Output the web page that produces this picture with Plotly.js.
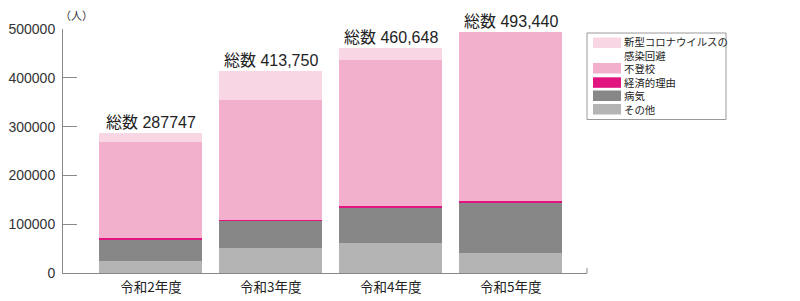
<!DOCTYPE html>
<html>
<head>
<meta charset="utf-8">
<script src="https://cdn.plot.ly/plotly-3.0.1.min.js"></script>
<style>
html,body{margin:0;padding:0;background:#fff;}
#chart{width:800px;height:301px;}
</style>
</head>
<body>
<div id="chart"></div>
<script>
// ---- data ----
const categories = ['令和2年度', '令和3年度', '令和4年度', '令和5年度'];
const sonota     = [25500, 51000, 61000, 40000];      // その他
const byoki      = [43000, 55000, 73000, 103458];     // 病気
const keizai     = [3000, 3500, 3500, 3500];          // 経済的理由
const futoko     = [196127, 244940, 299048, 346482];  // 不登校
const corona     = [20120, 59310, 24100, 0];          // 新型コロナウイルスの感染回避
const totals     = [287747, 413750, 460648, 493440];
const totalLabels = ['287747', '413,750', '460,648', '493,440'];
const yTicks     = [0, 100000, 200000, 300000, 400000, 500000];

const seriesNames  = ['その他', '病気', '経済的理由', '不登校', '新型コロナウイルスの感染回避'];
const legendLabels = ['その他', '病気', '経済的理由', '不登校', '新型コロナウイルスの<br>感染回避'];
const seriesValues = [sonota, byoki, keizai, futoko, corona];
const seriesColors = ['#b4b4b4', '#878787', '#e0157f', '#f2b0cc', '#f9d6e3'];

const FONT = 'Liberation Sans, Arial, "Noto Sans CJK JP", sans-serif';
const JFONT = '"Noto Sans CJK JP", sans-serif';

const traces = seriesNames.map((n, i) => ({
  type: 'bar',
  name: n,
  x: categories,
  y: seriesValues[i],
  marker: {color: seriesColors[i], line: {width: 0}},
  hoverinfo: 'skip'
}));

// plot area geometry in pixels for the hand-drawn legend
const L = 63, R = 213, T = 29, B = 28, W = 800, H = 301;
const pw = W - L - R, ph = H - T - B;
const px = x => (x - L) / pw;
const py = y => (H - B - y) / ph;

const shapes = [];
const annotations = [];

// totals above bars
categories.forEach((c, i) => {
  annotations.push({
    x: c, y: totals[i], xref: 'x', yref: 'y',
    text: '総数 ' + totalLabels[i],
    showarrow: false, xanchor: 'center', yanchor: 'bottom', yshift: 0,
    font: {family: FONT, size: 16, color: '#222'}
  });
});

// unit label
annotations.push({
  x: px(58), y: py(15), xref: 'paper', yref: 'paper',
  text: '（人）', showarrow: false, xanchor: 'left', yanchor: 'middle',
  font: {family: JFONT, size: 11, color: '#333'}
});

// right end tick of x axis
shapes.push({type: 'line', xref: 'paper', yref: 'paper',
  x0: 1, x1: 1, y0: 0, y1: py(268), line: {color: '#888', width: 1}});

// legend box
shapes.push({type: 'rect', xref: 'paper', yref: 'paper',
  x0: px(587), x1: px(726), y0: py(33), y1: py(119.5),
  line: {color: '#9a9a9a', width: 1}, fillcolor: 'rgba(0,0,0,0)'});

// legend swatches (top to bottom: reversed stacking order)
const swatchTops = [104, 90.5, 77.3, 63, 37.5];
seriesColors.forEach((col, i) => {
  shapes.push({type: 'rect', xref: 'paper', yref: 'paper',
    x0: px(593), x1: px(621), y0: py(swatchTops[i] + 10.5), y1: py(swatchTops[i]),
    line: {width: 0}, fillcolor: col});
});
// legend text as one block
annotations.push({
  x: px(623), y: py(33.3), xref: 'paper', yref: 'paper',
  text: legendLabels.slice().reverse().join('<br>'),
  showarrow: false, xanchor: 'left', yanchor: 'top', align: 'left',
  borderpad: 0,
  font: {family: JFONT, size: 10.4, color: '#222'}
});

const layout = {
  width: W, height: H,
  margin: {l: L, r: R, t: T, b: B, pad: 0},
  paper_bgcolor: '#fff', plot_bgcolor: '#fff',
  barmode: 'stack',
  bargap: 0.14,
  showlegend: false,
  font: {family: FONT, color: '#333'},
  xaxis: {
    type: 'category',
    range: [-0.733, 3.636],
    showline: true, linecolor: '#888', linewidth: 1,
    ticks: '', showgrid: false, zeroline: false,
    tickfont: {family: JFONT, size: 13.5, color: '#222'},
    ticklabelstandoff: 2,
    fixedrange: true
  },
  yaxis: {
    range: [0, 500000],
    tickvals: yTicks,
    tickformat: 'd',
    showline: true, linecolor: '#888', linewidth: 1,
    ticks: 'inside', ticklen: 14, tickcolor: '#888', tickwidth: 1,
    showgrid: false, zeroline: false,
    tickfont: {family: FONT, size: 14, color: '#333'},
    ticklabelstandoff: 4,
    fixedrange: true
  },
  shapes: shapes,
  annotations: annotations
};

Plotly.newPlot('chart', traces, layout, {displayModeBar: false, staticPlot: true});
</script>
</body>
</html>
